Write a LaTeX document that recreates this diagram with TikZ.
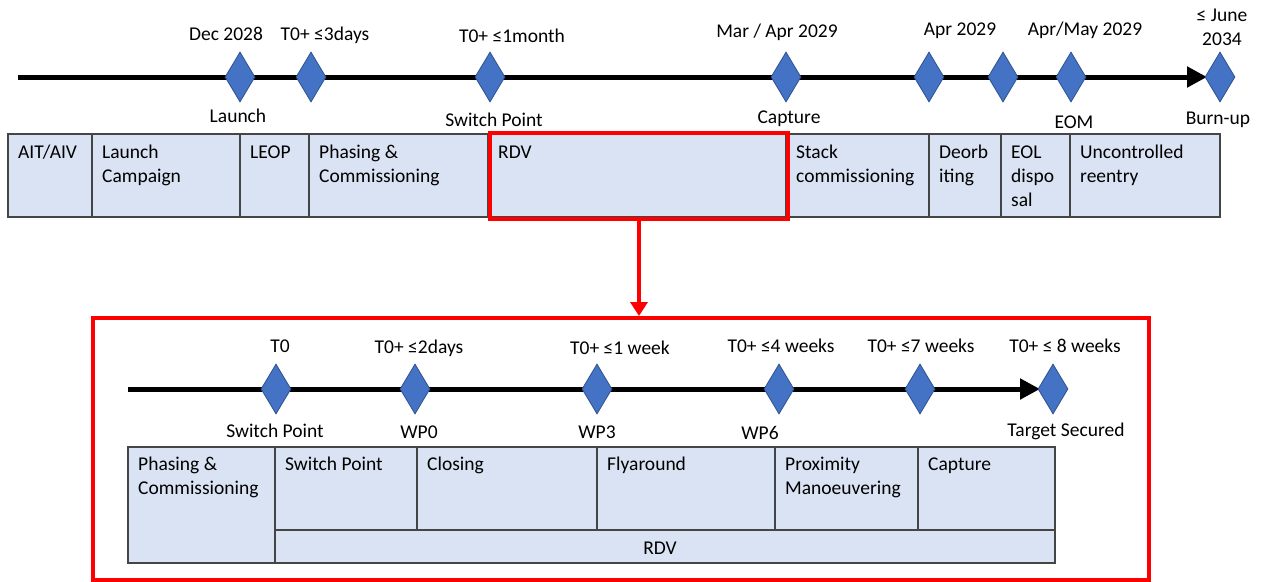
\documentclass[tikz,border=0pt]{standalone}
\usepackage{fontspec}
\setmainfont{Carlito}
\usetikzlibrary{shapes.geometric,arrows.meta}
\definecolor{msfill}{HTML}{4472C4}
\definecolor{msedge}{HTML}{2F528F}
\definecolor{phasefill}{HTML}{DAE3F3}
\definecolor{phaseedge}{HTML}{454545}
\definecolor{hilite}{HTML}{FF0000}
\def\txtdrop{7.5}
\newcommand{\phase}[6]{%
  \draw[phasebox] (#2,#3) rectangle (#4,#5);
  \node[phasetxt] (#1) at (#2+10,#3+\txtdrop) {\strut #6};}

\begin{document}
\begin{tikzpicture}[x=1pt,y=-1pt,
  every node/.style={font=\fontsize{19.5}{24}\selectfont},
  axis/.style={line width=5pt,-{Triangle[length=20pt,width=20pt]}},
  ms/.style={diamond,draw=msedge,fill=msfill,line width=0.8pt,minimum width=30pt,minimum height=50pt,inner sep=0pt},
  lbl/.style={anchor=base,inner sep=0pt},
  phasebox/.style={draw=phaseedge,fill=phasefill,line width=1.2pt},
  phasetxt/.style={anchor=north west,inner sep=0pt,align=left},
  hilitebox/.style={draw=hilite,line width=4pt,inner sep=0pt,anchor=north west},
  zoomarrow/.style={draw=hilite,line width=4pt,-{Triangle[length=14pt,width=17pt]}}]
\useasboundingbox (0,0) rectangle (1269,581);

\coordinate (tA) at (18,77);
\coordinate (tB) at (1207,77);
\draw[axis] (tA) -- (tB);
\node[ms] (mLaunch) at (240,77) {};
\node[ms] (mLeop) at (311,77) {};
\node[ms] (mSwitch) at (490,77) {};
\node[ms] (mCapture) at (786,77) {};
\node[ms] (mDeorbit) at (929,77) {};
\node[ms] (mEol) at (1003,77) {};
\node[ms] (mEom) at (1071,77) {};
\node[ms] (mBurn) at (1220,77) {};

\node[lbl] (lLaunchT) at (226,40) {Dec 2028};
\node[lbl] (lLeopT) at (325,40) {T0+ ≤3days};
\node[lbl] (lSwitchT) at (512,42) {T0+ ≤1month};
\node[lbl] (lCaptureT) at (777,37) {Mar / Apr 2029};
\node[lbl] (lDeorbitT) at (960,35) {Apr 2029};
\node[lbl] (lEomT) at (1085,35) {Apr/May 2029};
\node[lbl,align=center] (lBurnT) at (1222,45) {≤ June\\2034};
\node[lbl] (lLaunchB) at (238,122) {Launch};
\node[lbl] (lSwitchB) at (494,126) {Switch Point};
\node[lbl] (lCaptureB) at (789,123) {Capture};
\node[lbl] (lEomB) at (1074,128) {EOM};
\node[lbl] (lBurnB) at (1218,124) {Burn-up};

\phase{pAit}{8}{134}{92}{217}{AIT/AIV}
\phase{pCampaign}{92}{134}{240}{217}{Launch\\Campaign}
\phase{pLeop}{240}{134}{309}{217}{LEOP}
\phase{pPhasing}{309}{134}{488}{217}{Phasing \&\\Commissioning}
\phase{pRdv}{488}{134}{786}{217}{RDV}
\phase{pStack}{786}{134}{929}{217}{Stack\\commissioning}
\phase{pDeorbit}{929}{134}{1001}{217}{Deorb\\iting}
\phase{pEol}{1001}{134}{1070}{217}{EOL\\dispo\\sal}
\phase{pReentry}{1070}{134}{1220}{217}{Uncontrolled\\reentry}

\node[hilitebox,minimum width=298pt,minimum height=86pt] (rdvsel) at (488,131) {};
\node[hilitebox,minimum width=1056pt,minimum height=262pt] (detail) at (91,316) {};
\draw[zoomarrow] (rdvsel.south) -- (rdvsel.south |- detail.north);

\coordinate (dA) at (128,389);
\coordinate (dB) at (1040,389);
\draw[axis] (dA) -- (dB);
\node[ms] (dT0) at (276,389) {};
\node[ms] (dWP0) at (415,389) {};
\node[ms] (dWP3) at (597,389) {};
\node[ms] (dWP6) at (779,389) {};
\node[ms] (dWP7) at (920,389) {};
\node[ms] (dSecured) at (1053,389) {};

\node[lbl] (lT0T) at (280,352) {T0};
\node[lbl] (lWP0T) at (419,353) {T0+ ≤2days};
\node[lbl] (lWP3T) at (620,354) {T0+ ≤1 week};
\node[lbl] (lWP6T) at (781,352) {T0+ ≤4 weeks};
\node[lbl] (lWP7T) at (921,352) {T0+ ≤7 weeks};
\node[lbl] (lSecuredT) at (1065,352) {T0+ ≤ 8 weeks};
\node[lbl] (lT0B) at (275,437) {Switch Point};
\node[lbl] (lWP0B) at (419,438) {WP0};
\node[lbl] (lWP3B) at (597,438) {WP3};
\node[lbl] (lWP6B) at (760,439) {WP6};
\node[lbl] (lSecuredB) at (1066,436) {Target Secured};

\def\txtdrop{6}
\phase{qPhasing}{128}{447}{275}{563}{Phasing \&\\Commissioning}
\phase{qSwitch}{275}{447}{417}{530}{Switch Point}
\phase{qClosing}{417}{447}{597}{530}{Closing}
\phase{qFly}{597}{447}{775}{530}{Flyaround}
\phase{qProx}{775}{447}{918}{530}{Proximity\\Manoeuvering}
\phase{qCapture}{918}{447}{1055}{530}{Capture}
\draw[phasebox] (275,530) rectangle (1055,563);
\node[lbl] (qRdv) at (660,554) {RDV};
\end{tikzpicture}
\end{document}
